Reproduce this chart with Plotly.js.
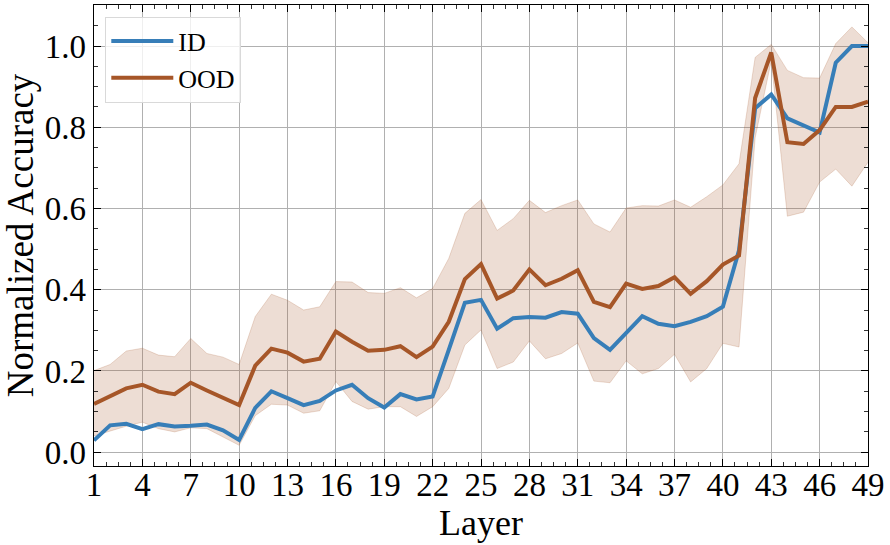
<!DOCTYPE html>
<html>
<head>
<meta charset="utf-8">
<script src="https://cdn.plot.ly/plotly-3.0.1.min.js"></script>
<style>
  html, body { margin: 0; padding: 0; background: #fff; }
  #chart { width: 890px; height: 545px; }
</style>
</head>
<body>
<div id="chart"></div>
<script>
const layers = [1,2,3,4,5,6,7,8,9,10,11,12,13,14,15,16,17,18,19,20,21,22,23,24,25,26,27,28,29,30,31,32,33,34,35,36,37,38,39,40,41,42,43,44,45,46,47,48,49];

const idAcc = [0.029,0.066,0.070,0.057,0.069,0.063,0.065,0.068,0.054,0.030,
               0.109,0.150,0.133,0.116,0.126,0.152,0.166,0.133,0.110,0.143,
               0.130,0.137,0.252,0.368,0.375,0.304,0.330,0.333,0.331,0.345,
               0.341,0.281,0.252,0.293,0.335,0.316,0.310,0.321,0.335,0.358,
               0.497,0.847,0.881,0.822,0.804,0.787,0.959,1.000,1.000];

const oodAcc = [0.119,0.137,0.157,0.166,0.149,0.143,0.171,0.152,0.135,0.116,
                0.213,0.255,0.245,0.223,0.230,0.297,0.272,0.250,0.252,0.261,
                0.234,0.260,0.321,0.426,0.463,0.378,0.398,0.450,0.411,0.427,
                0.448,0.370,0.357,0.415,0.402,0.409,0.431,0.390,0.421,0.462,
                0.484,0.872,0.984,0.763,0.759,0.793,0.850,0.850,0.863];

const oodUpper = [0.201,0.216,0.249,0.256,0.239,0.235,0.280,0.243,0.234,0.216,
                  0.334,0.389,0.374,0.350,0.358,0.420,0.419,0.393,0.391,0.405,
                  0.380,0.403,0.477,0.588,0.622,0.546,0.575,0.620,0.590,0.607,
                  0.621,0.562,0.542,0.601,0.607,0.606,0.621,0.603,0.629,0.658,
                  0.710,0.972,1.004,0.940,0.922,0.921,1.006,1.047,1.008];

const oodLower = [0.040,0.052,0.064,0.074,0.058,0.050,0.060,0.058,0.038,0.017,
                  0.090,0.118,0.116,0.096,0.102,0.174,0.125,0.106,0.112,0.112,
                  0.088,0.112,0.157,0.264,0.301,0.206,0.222,0.274,0.230,0.243,
                  0.269,0.175,0.171,0.225,0.193,0.206,0.241,0.173,0.206,0.268,
                  0.259,0.774,0.964,0.581,0.591,0.665,0.697,0.655,0.714];

const xTicks = [1,4,7,10,13,16,19,22,25,28,31,34,37,40,43,46,49];
const yTicks = [0.0,0.2,0.4,0.6,0.8,1.0];
const yTickText = ['0.0','0.2','0.4','0.6','0.8','1.0'];

const blue = '#377eb8';
const brown = '#a65628';
const bandFill = 'rgba(166,86,40,0.2)';

const traces = [
  { x: layers, y: oodLower, type: 'scatter', mode: 'lines',
    line: { color: bandFill, width: 1 }, showlegend: false, hoverinfo: 'skip' },
  { x: layers, y: oodUpper, type: 'scatter', mode: 'lines', fill: 'tonexty',
    fillcolor: bandFill, line: { color: bandFill, width: 1 }, showlegend: false, hoverinfo: 'skip' },
  { x: layers, y: idAcc, type: 'scatter', mode: 'lines', name: 'ID',
    line: { color: blue, width: 4 } },
  { x: layers, y: oodAcc, type: 'scatter', mode: 'lines', name: 'OOD',
    line: { color: brown, width: 4 } }
];

const font = 'Liberation Serif, Times New Roman, serif';

const layout = {
  width: 890, height: 545,
  margin: { l: 94, r: 22, t: 5, b: 79, pad: 0 },
  paper_bgcolor: '#fff', plot_bgcolor: '#fff',
  font: { family: font, color: '#000', size: 33 },
  showlegend: true,
  legend: {
    x: 0.0146, y: 0.975, xanchor: 'left', yanchor: 'top',
    traceorder: 'normal',
    bgcolor: 'rgba(255,255,255,0.8)', bordercolor: '#d9d9d9', borderwidth: 1,
    font: { family: font, size: 26, color: '#000' },
    itemwidth: 62,
    tracegroupgap: 0
  },
  xaxis: {
    range: [1, 49], tickmode: 'array', tickvals: xTicks, ticktext: xTicks.map(String),
    showgrid: true, gridcolor: '#b0b0b0', gridwidth: 1,
    showline: true, linecolor: '#000', linewidth: 1.3, mirror: 'ticks',
    ticks: 'inside', ticklen: 7, tickwidth: 1, tickcolor: '#000',
    minor: { dtick: 0.75, tick0: 1, ticks: 'inside', ticklen: 4, tickwidth: 0.8, tickcolor: '#000', showgrid: false },
    zeroline: false,
    tickfont: { family: font, size: 33 },
    ticklabelstandoff: -11,
    title: { text: 'Layer', font: { family: font, size: 36 }, standoff: 7 }
  },
  yaxis: {
    range: [-0.034, 1.101], tickmode: 'array', tickvals: yTicks, ticktext: yTickText,
    showgrid: true, gridcolor: '#b0b0b0', gridwidth: 1,
    showline: true, linecolor: '#000', linewidth: 1.3, mirror: 'ticks',
    ticks: 'inside', ticklen: 7, tickwidth: 1, tickcolor: '#000',
    minor: { dtick: 0.05, tick0: 0, ticks: 'inside', ticklen: 4, tickwidth: 0.8, tickcolor: '#000', showgrid: false },
    zeroline: false,
    tickfont: { family: font, size: 33 },
    title: { text: 'Normalized Accuracy', font: { family: font, size: 37 }, standoff: 6 }
  }
};

Plotly.newPlot('chart', traces, layout, { displayModeBar: false, staticPlot: true });
</script>
</body>
</html>
